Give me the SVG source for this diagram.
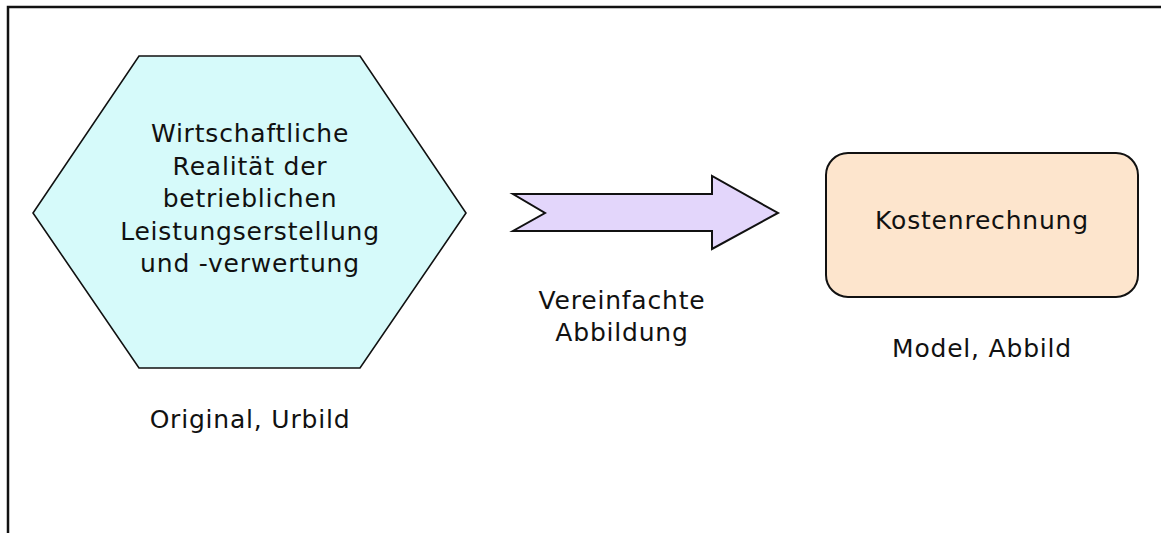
<svg xmlns="http://www.w3.org/2000/svg" width="1161" height="533" viewBox="0 0 1161 533">
  <style>
    text { font-family: "DejaVu Sans", Verdana, sans-serif; font-size: 25px; letter-spacing: 0.8px; fill: #111; text-anchor: middle; }
    .frame { fill: none; stroke: #111; stroke-width: 2.5; }
    .hex { fill: #d6fafa; stroke: #111; stroke-width: 1.6; stroke-linejoin: miter; }
    .arrow { fill: #e3d6fb; stroke: #111; stroke-width: 2; stroke-linejoin: miter; }
    .box { fill: #fde5cd; stroke: #111; stroke-width: 2; }
  </style>

  <rect width="1161" height="533" fill="#ffffff"/>

  <!-- outer frame (top and left edges) -->
  <path class="frame" d="M8,540 V7 H1170"/>

  <!-- original: hexagon -->
  <g id="original">
    <polygon class="hex" points="139,56 360,56 466,213 360,368 139,368 33,213"/>
    <text x="250" y="142">Wirtschaftliche</text>
    <text x="250" y="175">Realität der</text>
    <text x="250" y="207">betrieblichen</text>
    <text x="250" y="240">Leistungserstellung</text>
    <text x="250" y="272">und -verwertung</text>
  </g>
  <g id="original-label">
    <text x="250" y="428">Original, Urbild</text>
  </g>

  <!-- connector: block arrow -->
  <g id="connectors">
    <polygon class="arrow" points="513,194 712,194 712,176 778,213 712,249 712,231 513,231 545,213"/>
    <text x="622" y="309">Vereinfachte</text>
    <text x="622" y="341">Abbildung</text>
  </g>

  <!-- model: rounded box -->
  <g id="model">
    <rect class="box" x="826" y="153" width="312" height="144" rx="22" ry="22"/>
    <text x="982" y="229">Kostenrechnung</text>
  </g>
  <g id="model-label">
    <text x="982" y="357">Model, Abbild</text>
  </g>
</svg>
